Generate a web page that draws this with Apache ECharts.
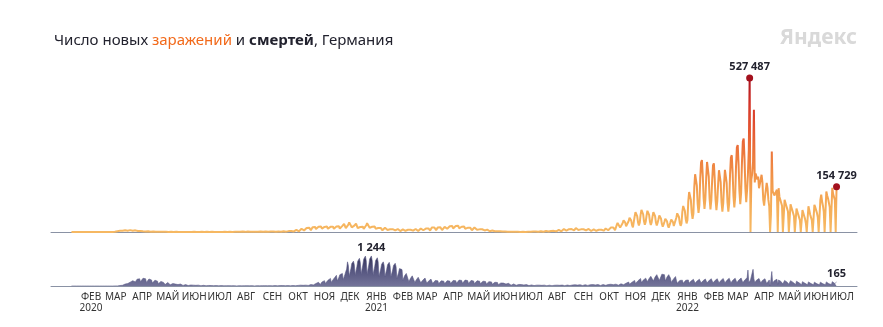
<!DOCTYPE html>
<html><head><meta charset="utf-8">
<script src="https://cdn.jsdelivr.net/npm/echarts@6/dist/echarts.min.js"></script>
<style>html,body{margin:0;padding:0;background:#fff}#c{width:883px;height:327px}</style>
</head><body><div id="c"></div><script>
// ---- data ----
const MONTHS = ['ЯНВ','ФЕВ','МАР','АПР','МАЙ','ИЮН','ИЮЛ','АВГ','СЕН','ОКТ','НОЯ','ДЕК'];
const AXIS_START = [2019, 11, 30];   // 30 Dec 2019
const AXIS_END = [2022, 7, 2];      // 2 Aug 2022
const DATA_START = '2020-01-23';
const FIRST_LABEL = '2020-02-15';
const LAST_LABEL = '2022-07-15';

// daily new cases (first 3 days, then weeks Sun..Sat)
const cases = [
0,0,0,
0,1,0,1,0,0,0,
0,2,3,0,0,1,0,
0,0,2,0,0,0,0,
0,0,0,0,0,0,0,
0,0,0,10,20,15,30,
60,30,40,100,110,150,120,
150,250,300,400,700,800,900,
1000,1800,2500,3000,3500,3900,3500,
3000,4500,5000,5800,6000,6300,5500,
4500,6000,6600,6500,5500,5000,4500,
4000,5500,5600,5000,4000,3200,3300,
2800,3800,3900,3300,2500,2000,2200,
2000,2800,2800,2200,1500,1100,1200,
1200,1800,1800,1400,900,700,800,
800,1200,1200,950,650,450,550,
600,900,900,700,450,350,400,
450,650,650,500,330,250,300,
350,500,500,400,250,180,230,
280,400,420,330,200,150,180,
250,350,360,280,180,130,170,
300,550,700,600,400,300,350,
400,550,600,470,300,200,260,
330,450,480,380,240,170,220,
320,430,450,350,220,160,200,
350,480,500,400,250,180,230,
420,560,600,470,300,210,270,
600,800,850,660,420,290,380,
750,950,1000,780,480,330,450,
1000,1350,1400,1100,660,450,630,
1200,1550,1600,1250,750,520,720,
1150,1500,1550,1200,730,500,700,
1100,1450,1500,1170,700,480,680,
1200,1550,1600,1250,750,520,720,
1500,1950,2000,1560,940,640,900,
1600,2050,2100,1640,990,670,950,
2000,2500,2600,2030,1220,830,1170,
3000,3900,4100,3200,1930,1300,1850,
5500,7100,7300,5700,3400,2300,3300,
8600,11200,11500,9000,5400,3700,5200,
14000,18400,19000,14800,8900,6100,8500,
16500,21300,22000,17200,10300,7000,9900,
18000,23300,24000,18700,11300,7700,10800,
17500,23000,23800,18500,11000,7800,11000,
17600,22800,23500,18300,11000,7500,10600,
18750,24250,25000,19500,11750,8000,11250,
21000,27200,28000,21800,13200,9000,12600,
25500,33000,34000,26500,16000,10900,15300,
22000,28500,29000,22600,13600,9300,13000,
17000,22000,23000,18000,11000,7400,10400,
23000,30000,31000,24000,14500,9900,14000,
18000,23300,24000,18700,11300,7700,10800,
13500,17500,18000,14000,8500,5800,8100,
11250,14500,15000,11700,7000,4800,6750,
9400,12100,12500,9750,5900,4000,5600,
7500,9700,10000,7800,4700,3200,4500,
6750,8700,9000,7000,4200,2900,4000,
7500,9700,10000,7800,4700,3200,4500,
7600,9900,10300,8000,4800,3300,4600,
9400,12100,12500,9750,5900,4000,5600,
11600,15000,15500,12100,7300,5000,7000,
15000,19400,20000,15600,9400,6400,9000,
15800,20400,21000,16400,9900,6700,9450,
13500,17500,20000,17000,11000,7000,9000,
19500,25200,26000,20300,12200,8300,11700,
20250,26200,27000,21000,12700,8600,12150,
18000,23300,24000,18700,11300,7700,10800,
14250,18400,19000,14800,8900,6100,8550,
12000,15500,16000,12500,7500,5100,7200,
9000,11600,12000,9400,5600,3800,5400,
6000,7800,8000,6200,3800,2600,3600,
3750,4850,5000,3900,2350,1600,2250,
2250,2900,3000,2340,1400,960,1350,
1270,1650,1700,1330,800,540,770,
750,970,1000,780,470,320,450,
680,870,900,700,420,290,400,
710,920,950,740,450,300,430,
980,1260,1300,1010,610,420,590,
1350,1750,1800,1400,850,580,810,
1880,2430,2500,1950,1180,800,1130,
2600,3400,3500,2730,1650,1120,1580,
3750,4850,5000,3900,2350,1600,2250,
5600,7300,7500,5850,3500,2400,3400,
7900,10200,10500,8200,4900,3400,4700,
9750,12600,13000,10100,6100,4200,5850,
10500,13600,14000,10900,6600,4500,6300,
9000,11600,12000,9400,5600,3800,5400,
7900,10200,10500,8200,4900,3400,4700,
6750,8700,9000,7000,4200,2900,4000,
7500,9700,10000,7800,4700,3200,4500,
9400,12100,12500,9750,5900,4000,5600,
15000,19400,20000,15600,9400,6400,9000,
24000,31000,32000,25000,15000,10200,14400,
30750,39800,41000,32000,19300,13100,18500,
37500,48500,50000,39000,23500,16000,22500,
52500,67900,70000,54600,32900,22400,31500,
58500,75700,78000,60800,36700,25000,35100,
56250,72750,75000,58500,35250,24000,33750,
52500,67900,70000,54600,32900,22400,31500,
43500,56300,58000,45200,27300,18600,26100,
35250,45600,47000,36700,22100,15000,21150,
33000,42700,44000,34300,20700,14100,19800,
49500,64000,66000,51500,31000,21100,29700,
69000,89200,92000,71800,43200,29400,41400,
105750,136800,141000,110000,66300,45100,63450,
153000,197900,204000,159100,95900,65300,91800,
184500,238600,246000,191900,115600,78700,110700,
185000,240000,245000,190000,114000,77000,108000,
176250,228000,235000,183300,110500,75200,105750,
163500,211500,218000,170000,102500,69800,98100,
165000,213000,219000,168000,101000,70000,99000,
197250,255100,263000,205100,123600,84200,118350,
223500,289000,298000,232400,140000,95400,134100,
240000,310000,320000,249600,150400,102400,144000,
200000,280000,527487,0,180000,200000,240000,
419000,170000,200000,205000,180000,190000,150000,
156000,180000,196000,170000,110000,90000,120000,
120000,168000,150000,110000,88000,0,60000,
276000,140000,133000,125000,122000,130000,145000,
0,150000,120000,110000,100000,90000,0,
0,110000,100000,90000,80000,70000,0,
0,95000,85000,75000,65000,55000,0,
0,80000,70000,60000,50000,40000,0,
0,75000,65000,55000,45000,30000,0,
0,88000,75000,60000,50000,40000,0,
0,93000,85000,75000,65000,50000,0,
0,110000,128000,105000,90000,70000,0,
0,139000,125000,115000,100000,85000,0,
0,151000,130000,120000,110000,0,154729
];

// daily deaths (same days)
const deaths = [
0,0,0,
0,0,0,0,0,0,0,
0,0,0,0,0,0,0,
0,0,0,0,0,0,0,
0,0,0,0,0,0,0,
0,0,0,0,0,0,0,
0,0,0,0,0,0,0,
0,1,2,0,1,2,4,
3,6,5,10,15,20,25,
25,30,40,60,80,100,110,
100,90,120,160,180,200,220,
200,150,170,250,280,300,320,
300,180,160,260,320,340,350,
300,150,140,230,290,300,300,
250,120,110,190,240,250,250,
200,90,80,150,190,200,200,
150,70,60,110,140,145,150,
110,50,45,80,100,105,110,
80,35,30,60,75,78,80,
60,28,24,45,56,58,60,
45,20,18,35,42,44,46,
36,16,14,28,34,35,36,
28,13,11,22,27,28,29,
24,11,9,18,22,23,24,
20,9,8,15,18,19,20,
17,8,7,13,16,17,17,
15,7,6,12,14,15,15,
14,6,5,11,13,14,14,
13,6,5,10,12,13,13,
13,6,5,10,12,13,13,
14,6,5,11,13,14,14,
14,6,5,11,13,14,14,
15,7,6,12,14,15,15,
15,7,6,12,14,15,15,
16,8,7,13,15,16,16,
17,8,7,13,16,17,17,
18,9,8,14,17,18,18,
20,10,8,16,19,20,21,
25,12,10,20,24,25,26,
35,16,14,28,33,35,36,
60,28,24,48,57,60,62,
98,46,40,80,104,110,115,
153,72,63,126,162,171,180,
221,104,91,182,234,247,260,
315,148,130,259,333,352,370,
442,208,182,364,468,494,520,
520,260,230,480,600,700,1000,
850,400,360,720,930,980,1030,
880,460,400,800,1030,1090,1145,
970,500,430,870,1110,1180,1240,
1050,500,440,870,1120,1180,1244,
1057,468,410,820,1053,1110,1170,
995,400,350,700,900,950,1000,
850,390,340,690,880,930,980,
830,380,330,660,850,890,940,
800,320,280,560,720,760,800,
680,240,210,420,500,520,550,
470,180,160,320,400,420,440,
370,150,130,270,340,360,380,
320,130,115,230,290,310,330,
280,115,100,200,255,270,285,
240,100,90,180,230,240,250,
215,95,85,170,215,225,235,
200,90,80,160,220,230,240,
205,100,90,180,230,245,260,
220,110,95,190,245,260,270,
230,110,95,190,245,255,265,
225,105,90,180,230,240,250,
210,95,85,165,215,225,235,
200,90,80,155,200,210,220,
185,80,70,140,180,190,200,
170,70,60,120,155,165,170,
145,55,48,95,125,130,140,
120,45,40,80,100,105,110,
95,38,33,65,80,85,90,
75,30,26,52,65,70,72,
60,24,21,42,52,55,58,
48,20,17,35,43,45,47,
40,17,15,30,36,38,40,
36,15,13,27,33,35,36,
34,14,12,26,31,33,34,
34,14,12,26,31,33,35,
36,15,13,28,34,36,38,
40,17,15,31,38,40,42,
45,19,17,35,42,45,47,
50,22,19,38,47,50,52,
54,24,21,42,51,54,56,
57,25,22,44,54,57,60,
58,26,22,45,55,58,61,
60,27,23,47,57,60,63,
64,29,25,50,61,64,67,
72,33,28,56,68,72,76,
90,40,35,70,86,90,95,
120,55,47,94,115,120,126,
165,75,65,130,158,165,174,
230,105,90,180,220,230,242,
310,140,120,240,295,310,326,
400,180,155,310,380,400,420,
470,210,185,370,450,470,500,
520,230,200,400,490,520,550,
470,210,180,370,450,470,500,
330,150,130,260,320,340,390,
235,110,95,190,230,245,276,
240,110,95,190,235,250,265,
250,115,100,200,245,260,275,
250,115,100,200,250,265,280,
255,120,105,210,260,275,290,
260,120,105,215,265,280,300,
260,120,105,215,265,280,300,
265,125,110,220,270,290,310,
270,125,110,225,275,295,320,
270,125,110,230,280,300,320,
275,130,115,235,285,305,330,
280,130,115,240,290,310,340,
660,130,120,250,300,320,690,
300,130,115,240,290,300,310,
280,125,110,230,280,290,300,
260,100,90,150,250,0,270,
600,120,100,220,260,270,280,
70,250,200,190,180,170,80,
70,230,180,170,160,150,75,
65,220,170,160,150,140,70,
60,200,150,140,130,120,65,
55,180,130,120,110,100,60,
50,170,120,110,100,90,55,
50,160,110,100,90,85,55,
50,160,110,100,90,80,55,
55,170,110,100,95,85,60,
60,180,120,110,100,95,165
];

// ---- build ----
function ymd(t){ return new Date(t).toISOString().slice(0,10); }
const categories = [];
for (let t = Date.UTC(...AXIS_START); t <= Date.UTC(...AXIS_END); t += 86400000) categories.push(ymd(t));
const startIdx = categories.indexOf(DATA_START);
const pad = n => Array.from({length:n}, () => '-');
const casesData = pad(startIdx).concat(cases);
const deathsData = pad(startIdx).concat(deaths);
const lastDate = categories[startIdx + cases.length - 1];
const fmt = n => String(n).replace(/\B(?=(\d{3})+(?!\d))/g, ' ');

const FONT = 'Noto Sans';
const axisLineColor = '#8a92a4';

const chart = echarts.init(document.getElementById('c'), null, {renderer:'canvas'});
const labelInterval = (i, v) => v.slice(8) === '15' && v >= FIRST_LABEL && v <= LAST_LABEL;
const labelFormatter = v => {
  const m = +v.slice(5,7), y = v.slice(0,4);
  const name = MONTHS[m-1];
  return (m === 1 || v === FIRST_LABEL) ? name + '\n' + y : name;
};

chart.setOption({
  animation: false,
  title: {
    text: '{n|Число новых }{o|заражений}{n| и }{b|смертей}{n|, Германия}',
    left: 49, top: 28,
    textStyle: {
      fontWeight: 'normal',
      rich: {
        n: {fontFamily: FONT, fontSize: 15, fontWeight: 'normal', color: '#22222e'},
        o: {fontFamily: FONT, fontSize: 15, fontWeight: 'normal', color: '#f26a1b'},
        b: {fontFamily: FONT, fontSize: 15, fontWeight: 'bold', color: '#22222e'}
      }
    }
  },
  graphic: [{
    type: 'text', x: 857, y: 38,
    style: {text: 'Яндекс', fontFamily: FONT, fontSize: 21, fontWeight: 'bold', fill: '#d9d9d9', align: 'right', verticalAlign: 'middle'}
  }],
  grid: [
    {left: 51, width: 806, top: 68.5, height: 163.5},
    {left: 51, width: 806, top: 252.2, height: 33.8}
  ],
  xAxis: [
    {gridIndex: 0, type: 'category', data: categories, boundaryGap: false,
     axisLine: {lineStyle: {color: axisLineColor, width: 1}}, axisTick: {show: false}, axisLabel: {show: false}},
    {gridIndex: 1, type: 'category', data: categories, boundaryGap: false,
     axisLine: {lineStyle: {color: axisLineColor, width: 1}}, axisTick: {show: false},
     axisLabel: {interval: labelInterval, formatter: labelFormatter, fontFamily: FONT, fontSize: 10, color: '#333', lineHeight: 11, margin: 6}}
  ],
  yAxis: [
    {gridIndex: 0, type: 'value', min: 0, max: 560000, show: false, splitLine: {show: false}},
    {gridIndex: 1, type: 'value', min: 0, max: 1400, show: false, splitLine: {show: false}}
  ],
  visualMap: [{
    show: false, type: 'continuous', seriesIndex: 0, dimension: 1, min: 0, max: 527487,
    inRange: {color: ['#f6b862', '#f5ae59', '#f2984b', '#ed7a3d', '#e55632', '#d43428', '#a9101d']}
  }],
  series: [
    {
      type: 'line', xAxisIndex: 0, yAxisIndex: 0, data: casesData, showSymbol: false, symbol: 'none',
      lineStyle: {width: 2}, z: 3,
      markPoint: {
        symbol: 'circle', symbolSize: 7, itemStyle: {color: '#a3111d'},
        label: {show: true, position: 'top', distance: 2, color: '#22222e', fontFamily: FONT, fontSize: 11, fontWeight: 'bold', formatter: p => fmt(p.value)},
        data: [{type: 'max'}, {coord: [lastDate, cases[cases.length-1]], value: cases[cases.length-1]}]
      }
    },
    {
      type: 'line', xAxisIndex: 1, yAxisIndex: 1, data: deathsData, showSymbol: false, symbol: 'none',
      lineStyle: {width: 0.6, color: '#5a5a86'},
      areaStyle: {opacity: 1, color: new echarts.graphic.LinearGradient(0, 254, 0, 286, [
        {offset: 0, color: '#2c2b4f'}, {offset: 0.5, color: '#55557f'}, {offset: 1, color: '#737399'}], true)},
      markPoint: {
        symbol: 'circle', symbolSize: 2, itemStyle: {color: 'rgba(0,0,0,0)'},
        label: {show: true, position: 'top', distance: 2, color: '#22222e', fontFamily: FONT, fontSize: 11, fontWeight: 'bold', formatter: p => fmt(p.value)},
        data: [{type: 'max'}, {coord: [lastDate, deaths[deaths.length-1]], value: deaths[deaths.length-1]}]
      }
    }
  ]
});
</script></body></html>
